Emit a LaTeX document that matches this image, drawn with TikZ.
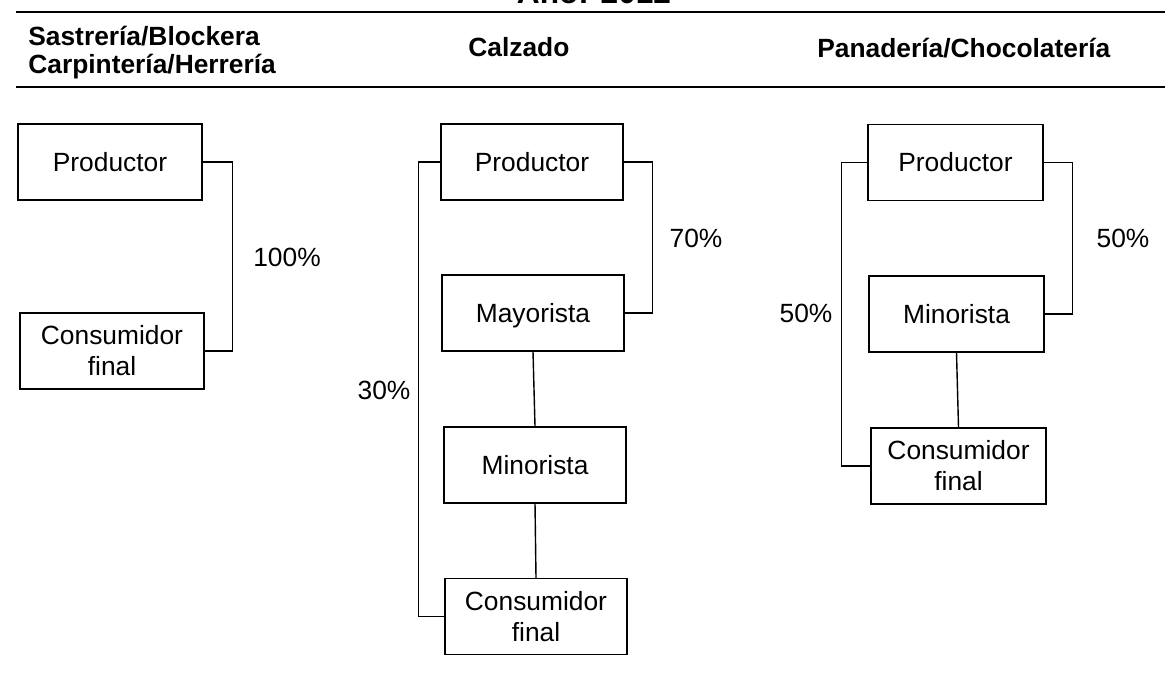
\documentclass[tikz,border=0pt]{standalone}
\usepackage{fontspec}
\setmainfont{Liberation Sans}
\begin{document}
\begin{tikzpicture}[x=0.02cm,y=-0.02cm,
  every node/.style={font=\fontsize{15}{17.6}\selectfont},
  head/.style={font=\fontsize{15}{17.6}\selectfont\bfseries, inner sep=0pt},
  pct/.style={inner sep=0pt, anchor=base},
  chain/.style={draw, line width=0.8pt, inner sep=0pt, align=center,
                minimum height=1.52cm, minimum width=#1},
  oneline/.style={text height=13pt, text depth=2.26pt},
  link/.style={line width=0.8pt},
  rule/.style={line width=1pt}]
\useasboundingbox (0,0) rectangle (1165,685);
\clip (0,0) rectangle (1165,685);

% title and header rules
\node[head, font=\fontsize{18}{20}\selectfont\bfseries, anchor=base] (title) at (594,4) {Año: 2012};
\coordinate (r1a) at (16,12);  \coordinate (r1b) at (1165,12);
\coordinate (r2a) at (16,87);  \coordinate (r2b) at (1165,87);
\draw[rule] (r1a) -- (r1b);
\draw[rule] (r2a) -- (r2b);

% column headers
\node[head, anchor=base west] (h1a) at (28,46) {Sastrería/Blockera};
\node[head, anchor=base west] (h1b) at (28,74) {Carpintería/Herrería};
\node[head, anchor=base west] (h2) at (468,57) {Calzado};
\node[head, anchor=base west] (h3) at (817,58) {Panadería/Chocolatería};

% first chain
\node[chain=3.68cm, oneline] (p1) at (110,162) {Productor};
\node[chain=3.68cm] (c1) at (112,351) {Consumidor\\final};
\draw[link] (p1.east) -- ++(30,0) |- (c1.east);
\node[pct] (l1) at (287,267) {100\%};

% second chain
\node[chain=3.64cm, oneline] (p2) at (532,162) {Productor};
\node[chain=3.64cm, oneline] (m2) at (533,313) {Mayorista};
\node[chain=3.64cm, oneline] (n2) at (535,465) {Minorista};
\node[chain=3.64cm] (c2) at (536,616.5) {Consumidor\\final};
\draw[link] (p2.east) -- ++(29,0) |- (m2.east);
\draw[link] (p2.west) -- ++(-22,0) |- (c2.west);
\draw[link] (m2.south) -- (n2.north);
\draw[link] (n2.south) -- (c2.north);
\node[pct] (l2) at (696,248) {70\%};
\node[pct] (l3) at (384,399) {30\%};

% third chain
\node[chain=3.5cm, oneline] (p3) at (955.5,162.5) {Productor};
\node[chain=3.5cm, oneline] (n3) at (956.5,314) {Minorista};
\node[chain=3.5cm] (c3) at (958.5,466) {Consumidor\\final};
\draw[link] (p3.east) -- ++(29,0) |- (n3.east);
\draw[link] (p3.west) -- ++(-26,0) |- (c3.west);
\draw[link] (n3.south) -- (c3.north);
\node[pct] (l4) at (1123,248) {50\%};
\node[pct] (l5) at (806,323) {50\%};
\end{tikzpicture}
\end{document}
